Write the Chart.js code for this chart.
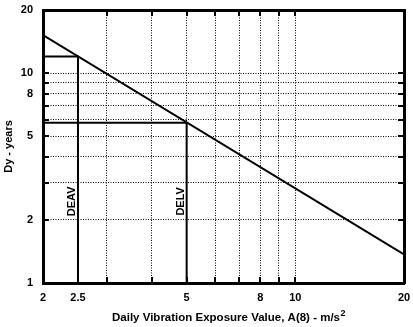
<!DOCTYPE html>
<html>
<head>
<meta charset="utf-8">
<title>Daily vibration exposure</title>
<script src="https://cdn.jsdelivr.net/npm/chart.js@4/dist/chart.umd.min.js"></script>
<style>
  html, body { margin: 0; padding: 0; background: #fff; }
  #wrap { width: 413px; height: 327px; }
</style>
</head>
<body>
<div id="wrap"><canvas id="chart"></canvas></div>
<script>
// axis ticks, labels and dotted grid positions
const xTicks = [2, 2.5, 3, 4, 5, 6, 7, 8, 9, 10, 20];
const xLabels = [2, 2.5, 5, 8, 10, 20];
const xGrid = [3, 4, 5, 6, 7, 8, 9, 10];
const yTicks = [1, 2, 3, 4, 5, 6, 7, 8, 9, 10, 20];
const yLabels = [1, 2, 5, 8, 10, 20];
const yGrid = [2, 3, 4, 5, 6, 7, 8, 9, 10];

// Dy against A(8)
const exposureX = [2, 20];
const exposureY = [15.2, 1.37];

// action / limit value guides
const deavX = [2, 2.5, 2.5];
const deavY = [12, 12, 1];
const delvX = [2, 5, 5];
const delvY = [5.8, 5.8, 1];

const guideNames = ['DEAV', 'DELV'];
const guideAt = [2.5, 5];
const guideNameY = 2.45;

const xTitle = 'Daily Vibration Exposure Value, A(8) - m/s';
const xTitleSup = '2';

const FONT = "'Liberation Sans', Arial, sans-serif";

const toPoints = (xs, ys) => xs.map((x, i) => ({ x: x, y: ys[i] }));

// frame, inward tick marks, x title with superscript and the guide names
const decorPlugin = {
    id: 'decor',
    afterDraw(chart) {
        const { ctx, chartArea: a, scales: { x, y } } = chart;
        const L = Math.round(a.left), R = Math.round(a.right);
        const T = Math.round(a.top), B = Math.round(a.bottom);
        const len = 6, tw = 2, fw = 3;
        ctx.save();
        ctx.fillStyle = '#000';
        xGrid.forEach((v) => {
            const px = Math.round(x.getPixelForValue(v));
            ctx.fillRect(px - tw / 2, T, tw, len);
            ctx.fillRect(px - tw / 2, B - len, tw, len);
        });
        yGrid.forEach((v) => {
            const py = Math.round(y.getPixelForValue(v));
            ctx.fillRect(L, py - tw / 2, len, tw);
            ctx.fillRect(R - len, py - tw / 2, len, tw);
        });
        // plot frame
        ctx.fillRect(L - 1, T - 1, R - L + 2, fw);
        ctx.fillRect(L - 1, B - 1, R - L + 2, fw);
        ctx.fillRect(L - 1, T - 1, fw, B - T + 2);
        ctx.fillRect(R - 1, T - 1, fw, B - T + 2);

        // x axis title, unit with a raised 2
        const mainFont = 'bold 11.5px ' + FONT;
        const supFont = 'bold 9px ' + FONT;
        ctx.textBaseline = 'alphabetic';
        ctx.textAlign = 'left';
        ctx.font = mainFont;
        const w1 = ctx.measureText(xTitle).width;
        ctx.font = supFont;
        const w2 = ctx.measureText(xTitleSup).width;
        const tx = (L + R) / 2 + 5 - (w1 + w2) / 2;
        const ty = 321;
        ctx.font = mainFont;
        ctx.fillText(xTitle, tx, ty);
        ctx.font = supFont;
        ctx.fillText(xTitleSup, tx + w1 + 0.5, ty - 5);

        ctx.font = 'bold 11px ' + FONT;
        ctx.textAlign = 'center';
        ctx.textBaseline = 'middle';
        guideNames.forEach((name, i) => {
            const px = x.getPixelForValue(guideAt[i]) - 6;
            const py = y.getPixelForValue(guideNameY);
            ctx.save();
            ctx.translate(px, py);
            ctx.rotate(-Math.PI / 2);
            ctx.fillText(name, 0, 0);
            ctx.restore();
        });
        ctx.restore();
    },
};

const lineStyle = {
    showLine: true,
    borderColor: '#000',
    borderWidth: 2,
    pointRadius: 0,
    fill: false,
    tension: 0,
};

new Chart(document.getElementById('chart'), {
    type: 'scatter',
    data: {
        datasets: [
            { ...lineStyle, data: toPoints(exposureX, exposureY) },
            { ...lineStyle, data: toPoints(deavX, deavY) },
            { ...lineStyle, data: toPoints(delvX, delvY) },
        ],
    },
    options: {
        responsive: true,
        maintainAspectRatio: false,
        animation: false,
        layout: { padding: { top: 10, right: 9, left: 0, bottom: 0 } },
        plugins: {
            legend: { display: false },
            tooltip: { enabled: false },
        },
        scales: {
            x: {
                type: 'logarithmic',
                min: 2,
                max: 20,
                afterBuildTicks: (s) => { s.ticks = xTicks.map((v) => ({ value: v })); },
                afterFit: (s) => {
                    s.height = 44;
                    s.paddingLeft = 0;
                    s.paddingRight = 0;
                },
                grid: {
                    drawTicks: false,
                    lineWidth: 1,
                    color: (c) => (c.tick && xGrid.includes(c.tick.value) ? '#000' : 'rgba(0,0,0,0)'),
                },
                border: { display: false, dash: [1, 1.5] },
                ticks: {
                    autoSkip: false,
                    maxRotation: 0,
                    padding: 8,
                    color: '#000',
                    font: { family: FONT, size: 11, weight: 'bold' },
                    callback: (v) => (xLabels.includes(v) ? String(v) : ''),
                },
                title: { display: false },
            },
            y: {
                type: 'logarithmic',
                min: 1,
                max: 20,
                afterBuildTicks: (s) => { s.ticks = yTicks.map((v) => ({ value: v })); },
                afterFit: (s) => {
                    s.width = 43;
                    s.paddingTop = 0;
                    s.paddingBottom = 0;
                },
                grid: {
                    drawTicks: false,
                    lineWidth: 1,
                    color: (c) => (c.tick && yGrid.includes(c.tick.value) ? '#000' : 'rgba(0,0,0,0)'),
                },
                border: { display: false, dash: [1, 1.5] },
                ticks: {
                    autoSkip: false,
                    padding: 10,
                    color: '#000',
                    font: { family: FONT, size: 11, weight: 'bold' },
                    callback: (v) => (yLabels.includes(v) ? String(v) : ''),
                },
                title: {
                    display: true,
                    text: 'Dy - years',
                    color: '#000',
                    font: { family: FONT, size: 11, weight: 'bold' },
                    padding: { top: 2, bottom: 0 },
                },
            },
        },
    },
    plugins: [decorPlugin],
});
</script>
</body>
</html>
